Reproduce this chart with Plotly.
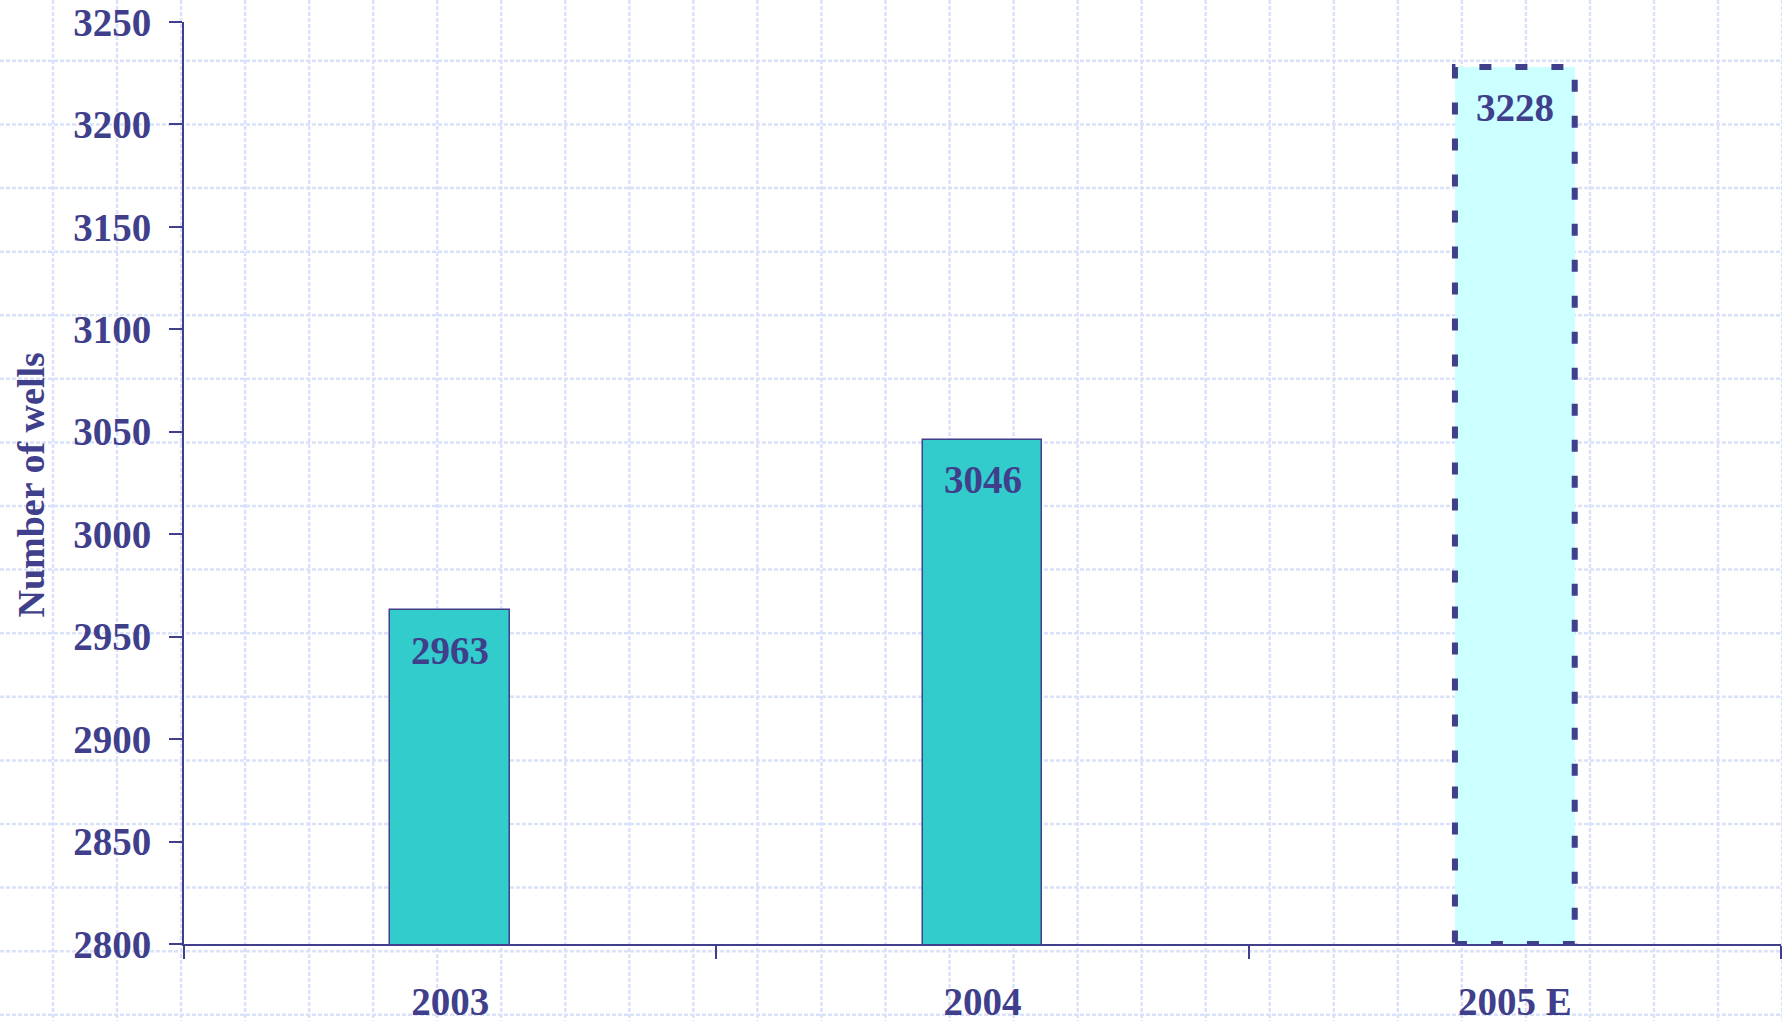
import plotly.graph_objects as go

# ---- data ----
categories = ["2003", "2004", "2005 E"]
wells = [2963, 3046, 3228]
estimate_flags = [False, False, True]
y_tick_values = [2800, 2850, 2900, 2950, 3000, 3050, 3100, 3150, 3200, 3250]
y_title = "Number of wells"

# ---- style ----
NAVY = "#3f3f8c"
SOLID_FILL = "#33cccc"
EST_FILL = "#ccffff"
GRID = "#dae2fa"
FONT = "Liberation Serif"
W, H = 1782, 1024
L, R, T, B = 184, 1, 22, 77
BAR_W = 0.225
YMIN, YMAX = 2800, 3250

fills = [EST_FILL if e else SOLID_FILL for e in estimate_flags]
line_w = [0 if e else 1.5 for e in estimate_flags]

fig = go.Figure()
fig.add_trace(go.Bar(
    x=categories, y=wells, width=BAR_W,
    marker=dict(color=fills, line=dict(color=NAVY, width=line_w)),
    hoverinfo="x+y",
))

# dashed outline for estimated bars
for i, (v, e) in enumerate(zip(wells, estimate_flags)):
    if e:
        fig.add_shape(type="rect", xref="x", yref="y",
                      x0=i - BAR_W / 2, x1=i + BAR_W / 2, y0=YMIN, y1=v,
                      line=dict(color=NAVY, width=6, dash="12px,24px"),
                      layer="above")

# value labels inside bars (x given as category index)
for i, v in enumerate(wells):
    fig.add_annotation(x=i, y=v, xref="x", yref="y", text=f"<b>{v}</b>",
                       showarrow=False, yanchor="middle", yshift=-40,
                       font=dict(family=FONT, size=39, color=NAVY))

# background graph-paper pattern (page decoration)
pw, ph = W - L - R, H - T - B
def px_to_paper_x(px):
    return (px - L) / pw
def px_to_paper_y(py):
    return (H - B - py) / ph

xs = [53 + 64.04 * k for k in range(28)]
ys = [61 + 63.8 * k for k in range(16)]
for xv in xs:
    fig.add_shape(type="line", xref="paper", yref="paper",
                  x0=px_to_paper_x(xv), x1=px_to_paper_x(xv),
                  y0=px_to_paper_y(0), y1=px_to_paper_y(H),
                  line=dict(color=GRID, width=2.5, dash="4px,2px"), layer="below")
for yv in ys:
    fig.add_shape(type="line", xref="paper", yref="paper",
                  x0=px_to_paper_x(0), x1=px_to_paper_x(W),
                  y0=px_to_paper_y(yv), y1=px_to_paper_y(yv),
                  line=dict(color=GRID, width=2.5, dash="4px,2px"), layer="below")

# y axis title
fig.add_annotation(xref="paper", yref="paper",
                   x=px_to_paper_x(31), y=px_to_paper_y(487),
                   text=f"<b>{y_title}</b>", textangle=-90, showarrow=False,
                   xanchor="center", yanchor="middle",
                   font=dict(family=FONT, size=38, color=NAVY))

fig.update_layout(
    width=W, height=H,
    margin=dict(l=L, r=R, t=T, b=B, pad=0),
    paper_bgcolor="white", plot_bgcolor="rgba(0,0,0,0)",
    showlegend=False, bargap=0,
    font=dict(family=FONT, color=NAVY),
)
fig.update_xaxes(
    type="category", range=[-0.5, 2.5],
    showline=True, linecolor=NAVY, linewidth=2,
    ticks="outside", tickson="boundaries", ticklen=13, tickwidth=2, tickcolor=NAVY,
    showgrid=False, zeroline=False,
    tickfont=dict(family=FONT, size=39, color=NAVY, weight="bold"),
    ticklabelstandoff=22,
)
fig.update_yaxes(
    range=[YMIN, YMAX], tickvals=y_tick_values,
    showline=True, linecolor=NAVY, linewidth=2,
    ticks="outside", ticklen=13, tickwidth=2, tickcolor=NAVY,
    showgrid=False, zeroline=False,
    tickfont=dict(family=FONT, size=39, color=NAVY, weight="bold"),
    ticklabelstandoff=10,
)

fig.write_html("out.html", config={"displayModeBar": False},
               post_script="document.body.style.margin='0';")
